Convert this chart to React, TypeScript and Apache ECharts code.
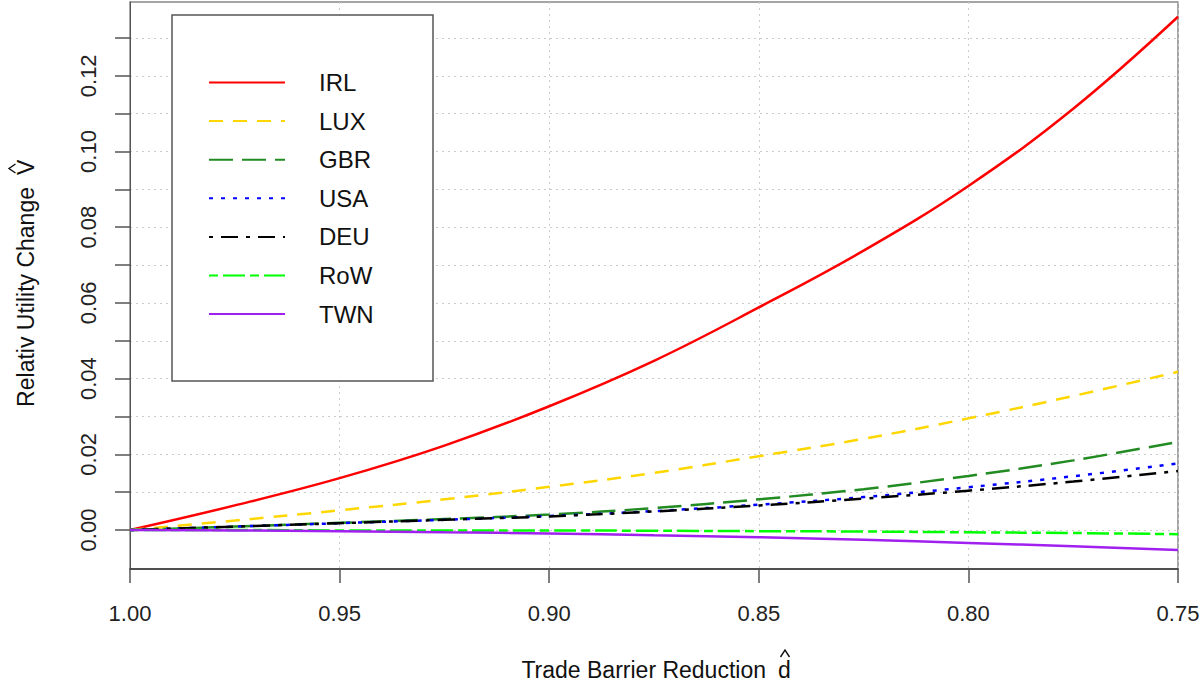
import React, { useEffect, useRef } from "react";
import * as echarts from "echarts";

// Trade barrier reduction d-hat (x values)
const reduction = [1.0, 0.975, 0.95, 0.925, 0.9, 0.875, 0.85, 0.825, 0.8, 0.775, 0.75];

// Relative utility change V-hat per country
const IRL = [0, 0.0065, 0.0137, 0.0223, 0.0327, 0.0447, 0.0588, 0.0738, 0.0909, 0.1113, 0.1356];
const LUX = [0, 0.0025, 0.0052, 0.0081, 0.0114, 0.0151, 0.0195, 0.0241, 0.0295, 0.0354, 0.0418];
const GBR = [0, 0.0009, 0.0019, 0.0029, 0.0041, 0.0058, 0.0081, 0.0108, 0.0143, 0.0184, 0.0233];
const USA = [0, 0.0009, 0.0018, 0.0027, 0.0037, 0.005, 0.0067, 0.0087, 0.0113, 0.0142, 0.0176];
const DEU = [0, 0.0009, 0.0018, 0.0027, 0.0036, 0.0049, 0.0065, 0.0083, 0.0104, 0.0128, 0.0156];
const RoW = [0, 0, -0.0001, -0.0001, -0.0001, -0.0002, -0.0003, -0.0004, -0.0006, -0.0008, -0.0011];
const TWN = [0, -0.0001, -0.0003, -0.0006, -0.0009, -0.0014, -0.0019, -0.0026, -0.0034, -0.0043, -0.0053];

const countryNames = ["IRL", "LUX", "GBR", "USA", "DEU", "RoW", "TWN"];
const countryValues = [IRL, LUX, GBR, USA, DEU, RoW, TWN];
const countryColors = ["#FF0000", "#FFD700", "#228B22", "#0000FF", "#000000", "#00FF00", "#A020F0"];
const countryDashes: (string | number[])[] = [
  "solid",
  [14, 10],
  [24, 9],
  [4, 8],
  [4, 8, 17, 8],
  [9, 5, 22, 5],
  "solid",
];

// Tick values / labels
const yTickValues = [0, 0.01, 0.02, 0.03, 0.04, 0.05, 0.06, 0.07, 0.08, 0.09, 0.1, 0.11, 0.12, 0.13];
const yLabelValues = [0, 0.02, 0.04, 0.06, 0.08, 0.1, 0.12];
const xTitle = "Trade Barrier Reduction";
const xSymbol = "d";
const yTitle = "Relativ Utility Change";
const ySymbol = "V";

const FONT = "Liberation Sans, Arial, Helvetica, sans-serif";

export default function App() {
  const ref = useRef<HTMLDivElement>(null);

  useEffect(() => {
    document.body.style.margin = "0";
    if (!ref.current) return;
    const chart = echarts.init(ref.current, undefined, { renderer: "svg" });

    const series = countryNames.map((name, i) => ({
      name,
      type: "line",
      data: reduction.map((x, j) => [x, countryValues[i][j]]),
      smooth: 0.4,
      showSymbol: false,
      symbol: "none",
      lineStyle: {
        color: countryColors[i],
        width: 2.5,
        type: countryDashes[i],
      },
      itemStyle: { color: countryColors[i] },
      z: 2 + i,
    }));

    const titleStyle = {
      fontSize: 23,
      fontFamily: FONT,
      fill: "#111111",
      textVerticalAlign: "middle",
      lineHeight: 16,
    };

    chart.setOption({
      animation: false,
      backgroundColor: "#ffffff",
      textStyle: { fontFamily: FONT },
      grid: {
        left: 130,
        right: 25,
        top: 2,
        bottom: 113,
        show: true,
        borderColor: "#888888",
        borderWidth: 1.5,
        backgroundColor: "transparent",
      },
      xAxis: {
        type: "value",
        inverse: true,
        min: 0.75,
        max: 1.0,
        interval: 0.05,
        axisLine: { show: true, onZero: false, lineStyle: { color: "#333333", width: 1.5 } },
        axisTick: { show: true, length: 14, lineStyle: { color: "#555555", width: 1.5 } },
        axisLabel: {
          margin: 33,
          fontSize: 22,
          color: "#222222",
          fontFamily: FONT,
          formatter: (v: number) => v.toFixed(2),
        },
        splitLine: { show: true, lineStyle: { color: "#cccccc", type: [2, 4], width: 1 } },
      },
      yAxis: {
        type: "value",
        min: -0.0103,
        max: 0.1395,
        axisLine: { show: true, lineStyle: { color: "#555555", width: 1 } },
        axisTick: {
          show: true,
          length: 15,
          customValues: yTickValues,
          lineStyle: { color: "#555555", width: 1.5 },
        },
        axisLabel: {
          rotate: 90,
          margin: 31,
          fontSize: 22,
          color: "#222222",
          fontFamily: FONT,
          customValues: yLabelValues,
          formatter: (v: number) => v.toFixed(2),
        },
        splitLine: { show: true, lineStyle: { color: "#cccccc", type: [2, 4], width: 1 } },
      },
      legend: {
        orient: "vertical",
        left: 208,
        top: 70,
        itemWidth: 76,
        itemHeight: 14,
        itemGap: 13.6,
        padding: 0,
        selectedMode: false,
        data: countryNames,
        itemStyle: { opacity: 0, color: "transparent", borderWidth: 0 },
        textStyle: {
          fontSize: 24,
          lineHeight: 25,
          color: "#111111",
          fontFamily: FONT,
          padding: [0, 0, 0, 29],
        },
        z: 10,
      },
      graphic: [
        {
          type: "rect",
          z: 5,
          shape: { x: 172, y: 15, width: 261, height: 366 },
          style: { fill: "#ffffff", stroke: "#555555", lineWidth: 1.5 },
        },
        {
          type: "text",
          z: 5,
          x: 766,
          y: 670,
          style: { ...titleStyle, text: xTitle, textAlign: "right" },
        },
        {
          type: "text",
          z: 5,
          x: 778,
          y: 670,
          style: { ...titleStyle, text: xSymbol, textAlign: "left" },
        },
        {
          type: "polyline",
          z: 5,
          shape: { points: [[780.5, 657], [785, 650], [789.5, 657]] },
          style: { stroke: "#111111", lineWidth: 1.4, fill: "none" },
        },
        {
          type: "group",
          x: 26,
          y: 285,
          rotation: Math.PI / 2,
          children: [
            {
              type: "text",
              z: 5,
              x: 98,
              y: 0,
              style: { ...titleStyle, text: yTitle, textAlign: "right" },
            },
            {
              type: "text",
              z: 5,
              x: 110,
              y: 0,
              style: { ...titleStyle, text: ySymbol, textAlign: "left" },
            },
          ],
        },
        {
          type: "polyline",
          z: 5,
          shape: { points: [[15.5, 164], [9, 168.5], [15.5, 173]] },
          style: { stroke: "#111111", lineWidth: 1.4, fill: "none" },
        },
      ],
      series,
    });

    return () => chart.dispose();
  }, []);

  return <div ref={ref} style={{ width: 1203, height: 682 }} />;
}
